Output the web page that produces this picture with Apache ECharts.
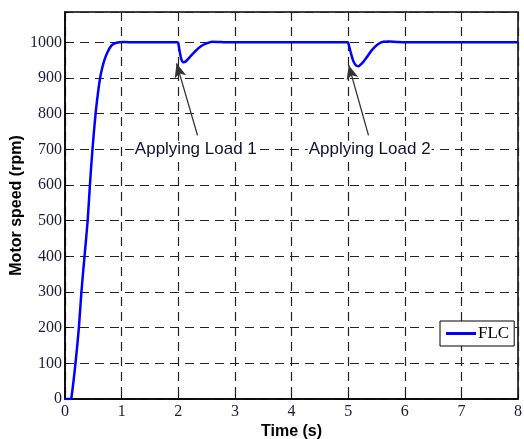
<!DOCTYPE html>
<html>
<head>
<meta charset="utf-8">
<script src="https://cdn.jsdelivr.net/npm/echarts@6/dist/echarts.min.js"></script>
<style>html,body{margin:0;padding:0;background:#fff}#c{width:524px;height:439px}</style>
</head>
<body>
<div id="c"></div>
<script>
// Time samples (s)
var time = [0, 0.05, 0.1, 0.115, 0.185, 0.245, 0.29, 0.345, 0.40, 0.44, 0.485, 0.54, 0.58, 0.62, 0.66, 0.70, 0.75, 0.815, 0.88, 0.96, 1.05, 1.2, 1.4, 1.6, 1.8, 1.98,
  2.0, 2.03, 2.06, 2.09, 2.13, 2.2, 2.3, 2.4, 2.5, 2.6, 2.7, 2.85, 3.0, 3.5, 4.0, 4.5, 4.98,
  5.0, 5.04, 5.09, 5.14, 5.18, 5.24, 5.32, 5.42, 5.52, 5.62, 5.72, 5.85, 6.0, 6.5, 7.0, 7.5, 8.0];
// Motor speed (rpm), FLC
var speedFLC = [0, 0, 0, 5, 100, 200, 300, 400, 500, 600, 700, 800, 855, 900, 930, 952, 972, 990, 997, 1000, 1001, 1000, 1000, 1000.5, 1000, 1000,
  998, 970, 950, 944, 946, 958, 975, 989, 997, 1001.5, 1001, 1000, 1000, 1000, 1000, 1000, 1000,
  999, 975, 948, 935, 933, 940, 956, 978, 994, 1001.5, 1002, 1001, 1000, 1000, 1000, 1000, 1000];
var xTicks = [0, 1, 2, 3, 4, 5, 6, 7, 8];
var yTicks = [0, 100, 200, 300, 400, 500, 600, 700, 800, 900, 1000];
var seriesName = 'FLC';
var loadLabels = ['Applying Load 1', 'Applying Load 2'];

var pts = time.map(function (t, i) { return [t, speedFLC[i]]; });
var chart = echarts.init(document.getElementById('c'));
var tickFont = { fontFamily: 'Liberation Serif', fontSize: 16, color: '#1c1c3a' };
chart.setOption({
  animation: false,
  grid: { left: 65, right: 6, top: 12, bottom: 40, outerBoundsMode: 'none', containLabel: false, show: true, borderColor: '#000', borderWidth: 1.5, backgroundColor: 'transparent' },
  xAxis: {
    type: 'value', min: 0, max: 8, interval: 1,
    name: 'Time (s)', nameLocation: 'middle', nameGap: 25, nameMoveOverlap: false,
    nameTextStyle: { fontFamily: 'Liberation Sans', fontWeight: 'bold', fontSize: 16, color: '#000' },
    axisLine: { lineStyle: { color: '#000', width: 1.5 } },
    axisTick: { inside: true, length: 4, lineStyle: { color: '#000' } },
    axisLabel: Object.assign({ margin: 5, formatter: function (v) { return xTicks.indexOf(v) >= 0 ? String(v) : ''; } }, tickFont),
    splitLine: { show: true, lineStyle: { color: '#222', width: 1.2, type: [9, 6] } }
  },
  yAxis: {
    type: 'value', min: 0, max: 1085, interval: 100,
    name: 'Motor speed (rpm)', nameLocation: 'middle', nameGap: 40, nameMoveOverlap: false,
    nameTextStyle: { fontFamily: 'Liberation Sans', fontWeight: 'bold', fontSize: 16, color: '#000' },
    axisLine: { lineStyle: { color: '#000', width: 1.5 } },
    axisTick: { inside: true, length: 4, lineStyle: { color: '#000' } },
    axisLabel: Object.assign({ margin: 3, formatter: function (v) { return yTicks.indexOf(v) >= 0 ? String(v) : ''; } }, tickFont),
    splitLine: { show: true, lineStyle: { color: '#222', width: 1.2, type: [9, 6] } }
  },
  legend: {
    left: 440, top: 321, orient: 'vertical',
    data: [{ name: seriesName, icon: 'rect' }],
    itemWidth: 30, itemHeight: 3,
    padding: [4, 5, 4, 6],
    borderColor: '#000', borderWidth: 1, backgroundColor: '#fff',
    textStyle: { fontFamily: 'Liberation Serif', fontSize: 17, color: '#000', padding: [0, 0, 0, -3] }
  },
  series: [{
    name: seriesName, type: 'line', data: pts, showSymbol: false, smooth: 0.25,
    lineStyle: { color: '#0000ff', width: 2.5 }, itemStyle: { color: '#0000ff' },
    markLine: {
      silent: true, symbol: ['none', 'arrow'], symbolSize: [9, 14],
      lineStyle: { color: '#333', width: 1.3, type: 'solid' },
      label: { show: false },
      data: [
        [{ coord: [2.34, 739] }, { coord: [1.97, 941] }],
        [{ coord: [5.36, 739] }, { coord: [5.01, 936] }]
      ]
    },
    markPoint: {
      silent: true, symbol: 'rect', symbolSize: 0,
      label: { show: true, position: 'inside', fontFamily: 'Liberation Sans', fontSize: 17, color: '#111133', backgroundColor: '#fff', padding: [0, 1] },
      data: [
        { coord: [2.31, 700], label: { formatter: loadLabels[0] } },
        { coord: [5.38, 700], label: { formatter: loadLabels[1] } }
      ]
    }
  }]
});
</script>
</body>
</html>
